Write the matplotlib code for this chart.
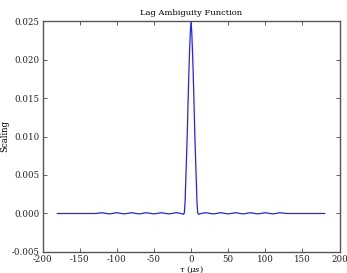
import matplotlib
matplotlib.use("Agg")
import matplotlib.pyplot as plt

# Lag values (microseconds) and ambiguity scaling values
tau = [-180, -130, -125, -120, -115, -110, -105, -100, -95, -90, -85, -80, -75,
       -70, -65, -60, -55, -50, -45, -40, -35, -30, -25, -20, -15, -12, -10,
       -9, -8, -7, -6, -5, -4, -3, -2, -1, 0, 1, 2, 3, 4, 5, 6, 7, 8, 9,
       10, 12, 15, 20, 25, 30, 35, 40, 45, 50, 55, 60, 65, 70, 75, 80, 85,
       90, 95, 100, 105, 110, 115, 120, 125, 130, 180]
scaling = [0.0, 0.0, 0.00003, 0.0001, 0.00002, -0.00005, 0.00002, 0.0001,
           0.00002, -0.00005, 0.00002, 0.0001, 0.00002, -0.00005, 0.00002,
           0.0001, 0.00002, -0.00005, 0.00002, 0.0001, 0.00002, -0.00005,
           0.00002, 0.0001, 0.00003, -0.00005, -0.0001,
           0.0001, 0.0015, 0.0045, 0.0075, 0.0105, 0.0145, 0.0180, 0.0210,
           0.0235, 0.0250, 0.0235, 0.0210, 0.0180, 0.0145, 0.0105, 0.0075,
           0.0045, 0.0015, 0.0001,
           -0.0001, -0.00005, 0.00003, 0.0001, 0.00002, -0.00005, 0.00002,
           0.0001, 0.00002, -0.00005, 0.00002, 0.0001, 0.00002, -0.00005,
           0.00002, 0.0001, 0.00002, -0.00005, 0.00002, 0.0001, 0.00002,
           -0.00005, 0.00002, 0.0001, 0.00003, 0.0, 0.0]

plt.rcParams['font.family'] = ['DejaVu Serif']
plt.rcParams['mathtext.fontset'] = 'dejavuserif'
plt.rcParams['axes.unicode_minus'] = False

fig = plt.figure(figsize=(3.47, 2.73), dpi=100)
ax = fig.add_axes([0.1225, 0.077, 0.856, 0.846])
ax.plot(tau, scaling, color='#2222ff', linewidth=0.9)

ax.set_xlim(-200, 200)
ax.set_ylim(-0.005, 0.025)
ax.set_xticks(range(-200, 201, 50))
ax.set_yticks([-0.005, 0.0, 0.005, 0.010, 0.015, 0.020, 0.025])
ax.yaxis.set_major_formatter(matplotlib.ticker.FormatStrFormatter('%.3f'))
ax.tick_params(direction='in', top=True, right=True, labelsize=6.2,
               length=3, width=0.5, pad=2, colors='#222222')
for s in ax.spines.values():
    s.set_linewidth(1.0)
    s.set_color('#555555')

ax.set_title('Lag Ambiguity Function', fontsize=6, pad=4)
ax.set_xlabel(r'$\tau\ (\mu s)$', fontsize=6, labelpad=0)
ax.set_ylabel('Scaling', fontsize=6.2, labelpad=2)

fig.savefig('out.png', dpi=100, facecolor='white')
